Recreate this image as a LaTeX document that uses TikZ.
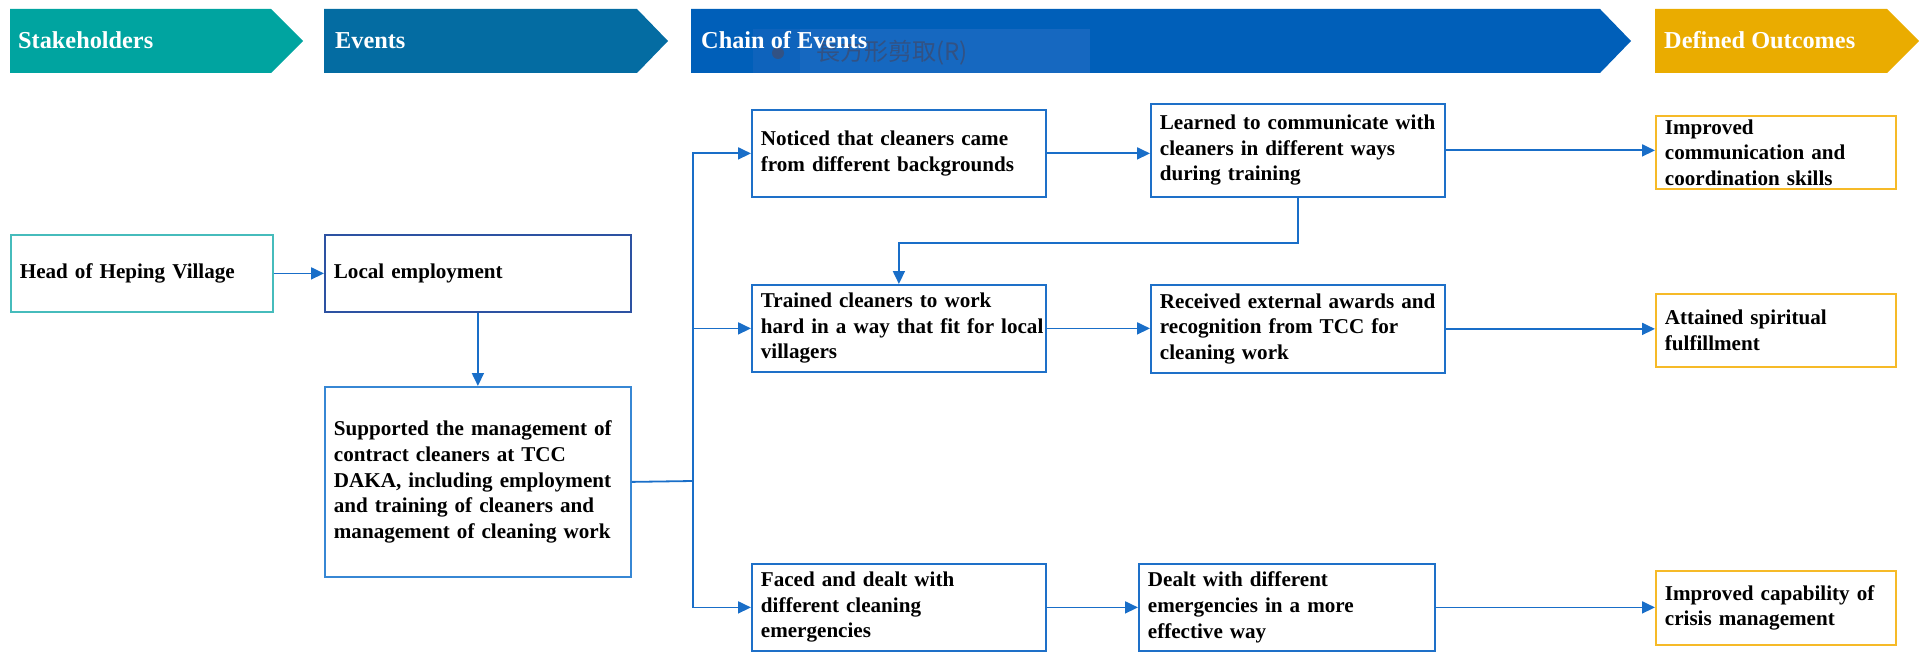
\documentclass[tikz,border=0pt]{standalone}
\usepackage{fontspec}
\setmainfont{Liberation Serif}
\newfontfamily\cjkfont{Noto Sans CJK TC}
\usetikzlibrary{arrows.meta}
\definecolor{hteal}{RGB}{0,164,160}
\definecolor{hevents}{RGB}{4,108,162}
\definecolor{hchain}{RGB}{0,95,185}
\definecolor{hgold}{RGB}{234,172,0}
\definecolor{bteal}{RGB}{70,188,188}
\definecolor{bnavy}{RGB}{45,82,162}
\definecolor{bblue}{RGB}{30,112,200}
\definecolor{blight}{RGB}{55,135,212}
\definecolor{bgold}{RGB}{246,186,40}
\definecolor{arrc}{RGB}{25,110,200}
\definecolor{ovlc}{RGB}{22,104,192}
\definecolor{ovld}{RGB}{14,99,188}
\definecolor{ovlt}{RGB}{50,82,132}
\newcommand\oneline[1]{\mbox{#1}}
\begin{document}
\begin{tikzpicture}[x=1pt,y=-1pt,
  hdrtext/.style={anchor=base west,inner sep=0pt,text=white,font=\fontsize{24.3}{29}\selectfont\bfseries},
  box/.style={draw,line width=1.8pt,anchor=north west,inner xsep=9pt,inner ysep=2pt,align=left,
    font=\fontsize{21.1}{25.6}\selectfont\bfseries,text=black},
  arr/.style={draw=arrc,line width=1.8pt,-{Triangle[length=13pt,width=12pt]}},
  ln/.style={draw=arrc,line width=1.8pt}]
\useasboundingbox (0,0) rectangle (1919,655);
% headers
\fill[hteal] (10,9) -- (271,9) -- (303,41) -- (271,73) -- (10,73) -- cycle;
\fill[hevents] (324,9) -- (637,9) -- (668,41) -- (637,73) -- (324,73) -- cycle;
\fill[hchain] (691,9) -- (1600,9) -- (1631,41) -- (1600,73) -- (691,73) -- cycle;
\fill[hgold] (1655,9) -- (1887,9) -- (1919,41) -- (1887,73) -- (1655,73) -- cycle;
% faint overlay
\fill[ovlc] (753,29) rectangle (1090,73);
\fill[ovld] (753,29) rectangle (800,73);
\fill[ovlt] (778,53) circle (6);
\node[anchor=west,inner sep=0pt,text=ovlt,font=\cjkfont\fontsize{24}{28}\selectfont] (ovltext) at (816,53) {長方形剪取(R)};
\node[hdrtext] (h1) at (18,49) {Stakeholders};
\node[hdrtext] (h2) at (335,49) {Events};
\node[hdrtext] (h3) at (701,49) {Chain of Events};
\node[hdrtext] (h4) at (1664,49) {Defined Outcomes};
% boxes
\node[box,draw=bteal,minimum width=262,minimum height=77,text width=244] (head) at (10,234) {Head of Heping Village};
\node[box,draw=bnavy,minimum width=306,minimum height=77,text width=288] (local) at (324,234) {Local employment};
\node[box,draw=blight,minimum width=306,minimum height=190,text width=288] (supp) at (324,386)
  {\oneline{Supported the management of}\\contract cleaners at TCC\\\oneline{DAKA, including employment}\\and training of cleaners and\\\oneline{management of cleaning work}};
\node[box,draw=bblue,minimum width=294,minimum height=87,text width=276] (noticed) at (751,109)
  {Noticed that cleaners came\\from different backgrounds};
\node[box,draw=bblue,minimum width=294,minimum height=87,text width=276] (trained) at (751,284)
  {Trained cleaners to work\\\oneline{hard in a way that fit for local}\\villagers};
\node[box,draw=bblue,minimum width=294,minimum height=87,text width=276] (faced) at (751,563)
  {Faced and dealt with\\different cleaning\\emergencies};
\node[box,draw=bblue,minimum width=294,minimum height=93,text width=276] (learned) at (1150,103)
  {\oneline{Learned to communicate with}\\cleaners in different ways\\during training};
\node[box,draw=bblue,minimum width=294,minimum height=88,text width=276] (received) at (1150,284)
  {\oneline{Received external awards and}\\recognition from TCC for\\cleaning work};
\node[box,draw=bblue,minimum width=296,minimum height=87,text width=278] (dealt) at (1138,563)
  {Dealt with different\\emergencies in a more\\effective way};
\node[box,draw=bgold,minimum width=240,minimum height=73,text width=222] (impc) at (1655,115)
  {Improved\\communication and\\coordination skills};
\node[box,draw=bgold,minimum width=240,minimum height=73,text width=222] (attained) at (1655,293)
  {Attained spiritual\\fulfillment};
\node[box,draw=bgold,minimum width=240,minimum height=74,text width=222] (impcap) at (1655,570)
  {Improved capability of\\crisis management};
% connectors
\coordinate (trunk) at (693,481);
\draw[arr] (head.east) -- (local.west);
\draw[arr] (local.south) -- (supp.north);
\draw[ln] (supp.east) -- (trunk);
\draw[arr] (trunk) |- (noticed.west);
\draw[arr] (trunk) |- (trained.west);
\draw[arr] (trunk) |- (faced.west);
\draw[arr] (noticed.east) -- (noticed.east -| learned.west);
\draw[arr] (learned.south) -- ++(0,45) -| (trained.north);
\draw[arr] (learned.east) -- (learned.east -| impc.west);
\draw[arr] (trained.east) -- (trained.east -| received.west);
\draw[arr] (received.east) -- (received.east -| attained.west);
\draw[arr] (faced.east) -- (faced.east -| dealt.west);
\draw[arr] (dealt.east) -- (dealt.east -| impcap.west);
\end{tikzpicture}
\end{document}
